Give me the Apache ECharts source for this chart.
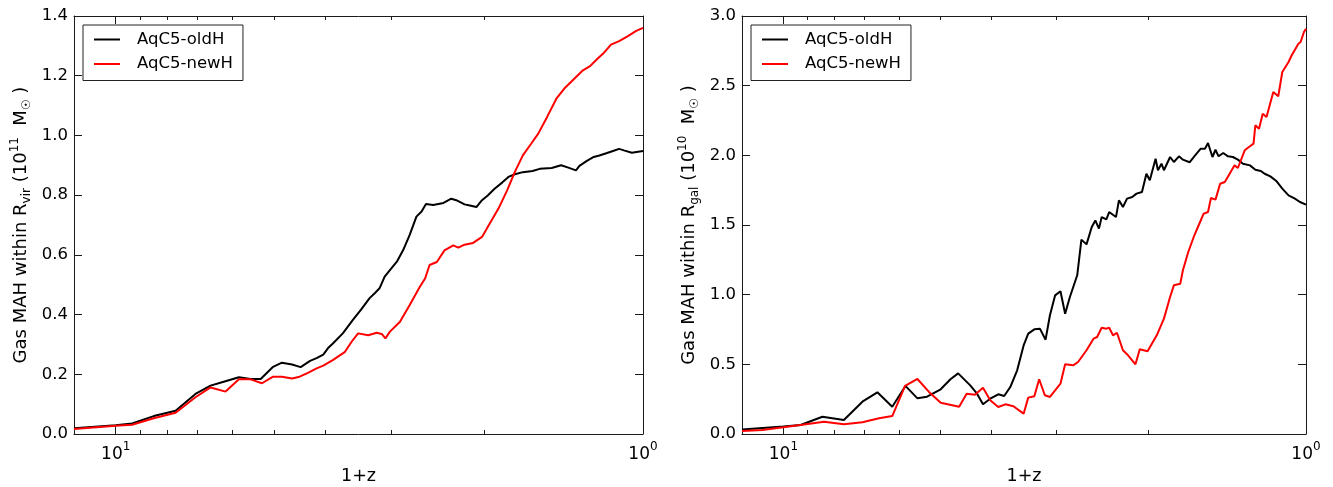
<!DOCTYPE html>
<html><head><meta charset="utf-8">
<script src="https://cdn.jsdelivr.net/npm/echarts@6/dist/echarts.min.js"></script>
<style>html,body{margin:0;padding:0;background:#fff}#c{width:1333px;height:487px}</style>
</head><body><div id="c"></div>
<script>
// ---------- data (x = 1+z, y = gas mass) ----------
const seriesNames = ['AqC5-oldH', 'AqC5-newH'];
const xMajorTicks = [1, 10];
const xMinorTicks = [2, 3, 4, 5, 6, 7, 8, 9];
const xName = '1+z';

// Left panel: gas within R_vir (10^11 Msun)
const rvirOldH = [[12.0,0.019],[10.0,0.029],[9.31,0.035],[8.47,0.060],[7.70,0.078],[7.06,0.134],[6.61,0.162],[6.24,0.175],[5.84,0.190],[5.55,0.184],[5.31,0.184],[5.03,0.225],[4.84,0.239],[4.63,0.233],[4.46,0.224],[4.28,0.245],[4.16,0.254],[4.04,0.266],[3.96,0.287],[3.87,0.304],[3.71,0.337],[3.55,0.382],[3.42,0.418],[3.30,0.455],[3.22,0.473],[3.16,0.488],[3.09,0.527],[3.02,0.549],[2.93,0.577],[2.85,0.616],[2.77,0.667],[2.69,0.728],[2.63,0.745],[2.58,0.770],[2.50,0.767],[2.39,0.774],[2.31,0.788],[2.26,0.783],[2.18,0.769],[2.13,0.765],[2.07,0.760],[2.02,0.783],[1.97,0.799],[1.91,0.822],[1.85,0.842],[1.80,0.861],[1.75,0.870],[1.69,0.877],[1.62,0.881],[1.57,0.888],[1.49,0.891],[1.43,0.900],[1.39,0.893],[1.34,0.883],[1.32,0.898],[1.28,0.914],[1.24,0.928],[1.21,0.933],[1.17,0.941],[1.14,0.948],[1.11,0.955],[1.087,0.950],[1.05,0.942],[1.0,0.948]];
const rvirNewH = [[12.0,0.017],[10.0,0.028],[9.31,0.031],[8.47,0.053],[7.70,0.071],[7.06,0.123],[6.61,0.156],[6.19,0.142],[5.84,0.183],[5.55,0.183],[5.28,0.170],[5.03,0.192],[4.84,0.192],[4.63,0.186],[4.48,0.192],[4.32,0.205],[4.16,0.220],[4.04,0.229],[3.87,0.248],[3.68,0.274],[3.57,0.309],[3.47,0.337],[3.32,0.331],[3.20,0.339],[3.13,0.335],[3.08,0.320],[3.02,0.343],[2.89,0.376],[2.77,0.432],[2.65,0.493],[2.59,0.521],[2.54,0.566],[2.46,0.576],[2.38,0.615],[2.29,0.632],[2.24,0.624],[2.18,0.634],[2.10,0.640],[2.02,0.660],[1.97,0.693],[1.88,0.755],[1.81,0.816],[1.75,0.878],[1.69,0.933],[1.63,0.972],[1.58,1.006],[1.52,1.062],[1.46,1.123],[1.41,1.157],[1.35,1.190],[1.30,1.218],[1.26,1.232],[1.22,1.257],[1.19,1.274],[1.15,1.304],[1.11,1.316],[1.07,1.332],[1.03,1.350],[1.0,1.360]];

// Right panel: gas within R_gal (10^10 Msun)
const rgalOldH = [[12.0,0.033],[10.0,0.053],[9.27,0.065],[8.42,0.124],[7.66,0.100],[7.06,0.232],[6.61,0.299],[6.19,0.196],[5.84,0.345],[5.54,0.256],[5.31,0.268],[5.00,0.321],[4.79,0.393],[4.63,0.435],[4.39,0.349],[4.26,0.289],[4.15,0.213],[4.02,0.253],[3.88,0.285],[3.78,0.273],[3.68,0.337],[3.57,0.457],[3.47,0.636],[3.40,0.720],[3.31,0.751],[3.23,0.756],[3.15,0.677],[3.09,0.852],[3.02,0.995],[2.95,1.024],[2.89,0.863],[2.83,0.983],[2.74,1.139],[2.69,1.395],[2.63,1.361],[2.57,1.486],[2.53,1.533],[2.49,1.474],[2.46,1.557],[2.41,1.541],[2.38,1.593],[2.31,1.557],[2.28,1.677],[2.24,1.629],[2.20,1.689],[2.15,1.701],[2.11,1.725],[2.06,1.737],[2.02,1.868],[1.99,1.821],[1.94,1.976],[1.92,1.893],[1.89,1.940],[1.87,1.893],[1.82,1.988],[1.79,1.952],[1.75,1.993],[1.72,1.969],[1.67,1.950],[1.63,2.000],[1.59,2.048],[1.56,2.048],[1.54,2.089],[1.51,1.988],[1.49,2.040],[1.47,1.993],[1.44,2.017],[1.41,1.993],[1.38,1.988],[1.35,1.969],[1.32,1.940],[1.28,1.928],[1.25,1.897],[1.22,1.888],[1.20,1.868],[1.17,1.849],[1.14,1.816],[1.11,1.761],[1.08,1.713],[1.05,1.689],[1.027,1.665],[1.0,1.646]];
const rgalNewH = [[12.0,0.022],[10.97,0.029],[10.0,0.048],[9.27,0.065],[8.36,0.088],[7.66,0.070],[7.06,0.084],[6.56,0.113],[6.19,0.129],[5.85,0.345],[5.54,0.395],[5.27,0.304],[5.00,0.225],[4.61,0.196],[4.46,0.289],[4.30,0.282],[4.15,0.332],[4.02,0.242],[3.88,0.194],[3.76,0.213],[3.63,0.199],[3.47,0.146],[3.40,0.261],[3.31,0.271],[3.24,0.393],[3.16,0.278],[3.09,0.266],[2.95,0.361],[2.89,0.500],[2.79,0.493],[2.73,0.517],[2.63,0.601],[2.55,0.684],[2.51,0.696],[2.46,0.763],[2.41,0.756],[2.38,0.763],[2.34,0.708],[2.30,0.727],[2.24,0.601],[2.19,0.565],[2.12,0.500],[2.08,0.608],[2.01,0.594],[1.93,0.708],[1.87,0.828],[1.82,0.983],[1.79,1.067],[1.74,1.079],[1.72,1.175],[1.68,1.306],[1.64,1.414],[1.60,1.509],[1.57,1.581],[1.54,1.593],[1.52,1.694],[1.49,1.682],[1.46,1.796],[1.43,1.809],[1.40,1.868],[1.37,1.928],[1.35,1.909],[1.31,2.036],[1.28,2.065],[1.26,2.084],[1.25,2.216],[1.23,2.191],[1.21,2.299],[1.19,2.275],[1.155,2.455],[1.13,2.424],[1.11,2.598],[1.08,2.670],[1.065,2.718],[1.034,2.801],[1.024,2.813],[1.009,2.885],[1.0,2.909]];

const panels = [
  { yMax: 1.4, yStep: 0.2, old: rvirOldH, neu: rvirNewH,
    yName: '{t|Gas MAH within R}{sub|vir}{t| (10}{sup|11}{t|  M}{sub|☉}{t| )}' },
  { yMax: 3.0, yStep: 0.5, old: rgalOldH, neu: rgalNewH,
    yName: '{t|Gas MAH within R}{sub|gal}{t| (10}{sup|10}{t|  M}{sub|☉}{t| )}' }
];
const lineColors = ['#000000', '#ff0000'];

// ---------- styling ----------
const FF = 'DejaVu Sans';
const FS = 16.5;
const TFS = 18;
const frame = { color: '#1a1a1a', width: 1 };
const grids = [
  { left: 74, top: 16, width: 569, height: 418, outerBoundsMode: 'none', containLabel: false },
  { left: 742, top: 16, width: 564, height: 418, outerBoundsMode: 'none', containLabel: false }
];

const xLabelRich = {
  b: { fontFamily: FF, fontSize: 17, color: '#000', lineHeight: 22, verticalAlign: 'bottom' },
  s: { fontFamily: FF, fontSize: 12, color: '#000', lineHeight: 12, verticalAlign: 'top' }
};
const nameRich = {
  t: { fontFamily: FF, fontSize: TFS, color: '#000', lineHeight: 24, verticalAlign: 'middle' },
  sub: { fontFamily: FF, fontSize: 12, color: '#000', lineHeight: 11, verticalAlign: 'bottom' },
  sup: { fontFamily: FF, fontSize: 12, color: '#000', lineHeight: 11, verticalAlign: 'top' }
};

const xAxis = [], yAxis = [], series = [], legend = [];
panels.forEach((p, g) => {
  const base = { type: 'log', logBase: 10, min: 1, max: 12, inverse: true, gridIndex: g,
    splitLine: { show: false }, minorTick: { show: false }, silent: true };
  const xi = xAxis.length;
  xAxis.push(Object.assign({}, base, {
    position: 'bottom',
    axisLine: { show: true, onZero: false, lineStyle: frame },
    axisTick: { show: true, inside: true, length: 8, customValues: xMajorTicks, lineStyle: frame },
    axisLabel: { show: true, customValues: xMajorTicks, margin: 7, rich: xLabelRich,
      formatter: v => '{b|10}{s|' + Math.round(Math.log10(v)) + '}' },
    name: xName, nameLocation: 'middle', nameGap: 33,
    nameTextStyle: { fontFamily: FF, fontSize: 17.5, color: '#000' }
  }));
  xAxis.push(Object.assign({}, base, {
    position: 'bottom',
    axisLine: { show: false, onZero: false },
    axisTick: { show: true, inside: true, length: 4, customValues: xMinorTicks, lineStyle: frame },
    axisLabel: { show: false }
  }));
  xAxis.push(Object.assign({}, base, {
    position: 'top',
    axisLine: { show: true, onZero: false, lineStyle: frame },
    axisTick: { show: true, inside: true, length: 8, customValues: xMajorTicks, lineStyle: frame },
    axisLabel: { show: false }
  }));
  xAxis.push(Object.assign({}, base, {
    position: 'top',
    axisLine: { show: false, onZero: false },
    axisTick: { show: true, inside: true, length: 4, customValues: xMinorTicks, lineStyle: frame },
    axisLabel: { show: false }
  }));
  const yi = yAxis.length;
  yAxis.push({
    type: 'value', gridIndex: g, min: 0, max: p.yMax, interval: p.yStep, position: 'left',
    axisLine: { show: true, onZero: false, lineStyle: frame },
    axisTick: { show: true, inside: true, length: 8, lineStyle: frame },
    axisLabel: { margin: 6, fontFamily: FF, fontSize: FS, color: '#000', formatter: v => v.toFixed(1) },
    splitLine: { show: false },
    name: p.yName, nameLocation: 'middle', nameRotate: 90, nameGap: 41,
    nameTextStyle: { rich: nameRich }
  });
  yAxis.push({
    type: 'value', gridIndex: g, min: 0, max: p.yMax, interval: p.yStep, position: 'right',
    axisLine: { show: true, onZero: false, lineStyle: frame },
    axisTick: { show: true, inside: true, length: 8, lineStyle: frame },
    axisLabel: { show: false }, splitLine: { show: false }
  });
  [p.old, p.neu].forEach((d, k) => {
    series.push({
      type: 'line', name: seriesNames[k], xAxisIndex: xi, yAxisIndex: yi, data: d,
      showSymbol: false, symbol: 'none', clip: true,
      lineStyle: { color: lineColors[k], width: 2 }, itemStyle: { color: lineColors[k] },
      z: 3 + k
    });
  });
  legend.push({
    data: seriesNames, orient: 'vertical', left: grids[g].left + 9, top: 25,
    icon: 'rect', itemWidth: 26, itemHeight: 2, itemGap: 7.5,
    padding: [6, 10, 8, 11], borderColor: '#222', borderWidth: 1, backgroundColor: '#fff',
    selectedMode: false,
    textStyle: { fontFamily: FF, fontSize: FS, color: '#000', padding: [0, 0, 0, 12] }
  });
});

const chart = echarts.init(document.getElementById('c'), null, { renderer: 'canvas' });
chart.setOption({
  animation: false,
  backgroundColor: '#fff',
  grid: grids, xAxis, yAxis, series, legend
});
</script>
</body></html>
